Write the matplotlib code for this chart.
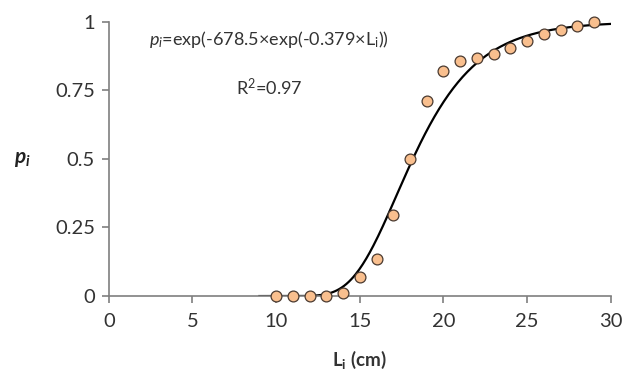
import numpy as np
import matplotlib
matplotlib.use("Agg")
import matplotlib.pyplot as plt

plt.rcParams['font.family'] = ['Lato', 'DejaVu Sans']
plt.rcParams['mathtext.fontset'] = 'custom'
plt.rcParams['mathtext.rm'] = 'Lato'
plt.rcParams['mathtext.it'] = 'Lato:italic'
plt.rcParams['mathtext.bf'] = 'Lato:bold'
plt.rcParams['mathtext.bfit'] = 'Lato:italic:bold'

# observed proportions
length_cm = [10, 11, 12, 13, 14, 15, 16, 17, 18, 19, 20, 21, 22, 23, 24, 25, 26, 27, 28, 29]
p_obs = [0.0, 0.0, 0.0, 0.0, 0.01, 0.068, 0.134, 0.295, 0.50, 0.712, 0.819, 0.857,
         0.869, 0.882, 0.905, 0.931, 0.954, 0.970, 0.984, 0.998]

# fitted Gompertz parameters shown on the chart
a_fit = 678.5
b_fit = 0.379
curve_range = [9, 30]

xticks = [0, 5, 10, 15, 20, 25, 30]
yticks = [0, 0.25, 0.5, 0.75, 1]
ytick_labels = ['0', '0.25', '0.5', '0.75', '1']

fig = plt.figure(figsize=(6.29, 3.82), dpi=100)
ax = fig.add_axes([0.173, 0.225, 0.798, 0.718])

L = np.linspace(curve_range[0], curve_range[1], 300)
ax.plot(L, np.exp(-a_fit * np.exp(-b_fit * L)), color='black', lw=1.6, zorder=2)
ax.plot(length_cm, p_obs, 'o', ms=7.8, mfc='#f9bf8e', mec='#4a3a30', mew=0.9,
        clip_on=False, zorder=3)

ax.set_xlim(0, 30)
ax.set_ylim(0, 1)
ax.set_xticks(xticks)
ax.set_yticks(yticks)
ax.set_yticklabels(ytick_labels)

for s in ['top', 'right']:
    ax.spines[s].set_visible(False)
for s in ['left', 'bottom']:
    ax.spines[s].set_color('#7f7f7f')
    ax.spines[s].set_linewidth(1.2)
ax.tick_params(axis='both', direction='out', length=5, width=1.2, color='#7f7f7f',
               labelsize=14.5, labelcolor='#333333')
ax.tick_params(axis='x', pad=7)
ax.tick_params(axis='y', pad=5)

ax.set_xlabel(r'L$_\mathregular{i}$ (cm)', fontsize=13.5, fontweight='bold',
              color='#333333', labelpad=14)
ax.text(-0.173, 0.5, r'$\mathbfit{p_i}$', transform=ax.transAxes, fontsize=15,
        ha='center', va='center', color='#222222')

ax.text(9.6, 0.935, r'$\it{p_i}$=exp(-678.5×exp(-0.379×L$_\mathregular{i}$))',
        fontsize=13, ha='center', va='center', color='#333333')
ax.text(9.6, 0.76, r'R$^\mathregular{2}$=0.97', fontsize=13, ha='center',
        va='center', color='#333333')

fig.savefig('out.png', dpi=100)
